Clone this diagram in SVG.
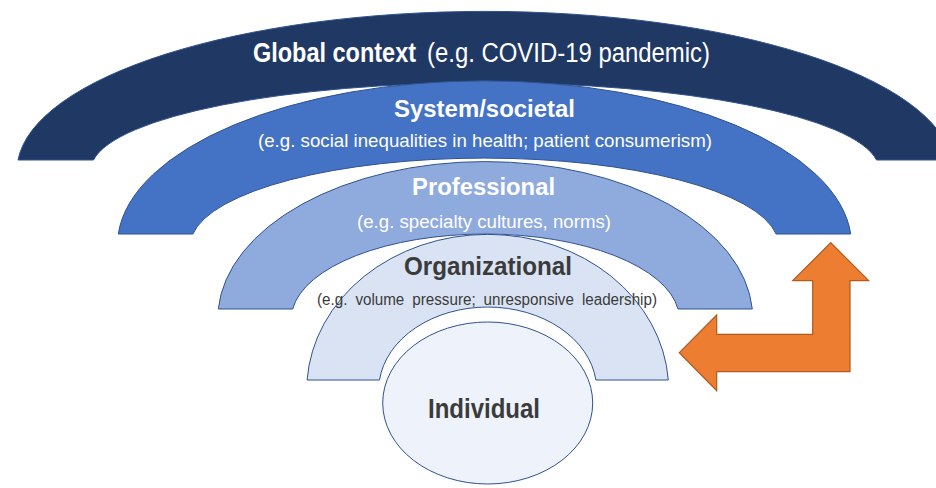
<svg xmlns="http://www.w3.org/2000/svg" width="936" height="488" viewBox="0 0 936 488">
<style>
.ring{stroke:#2F528F;stroke-width:1}
.t{font-family:"Liberation Sans Narrow","Liberation Sans",Arial,sans-serif}
.b{font-weight:bold}
.w{fill:#FFFFFF}
.d{fill:#3B3B3B}
</style>
<rect width="936" height="488" fill="#FFFFFF"/>
<g id="global">
<path class="ring" fill="#203864" d="M18,160 A468,159 0 0 1 952,160 L876.5,160 A394,87 0 0 0 93.5,160 Z"/>
<text class="t w b" x="253" y="62" font-size="27" textLength="163" lengthAdjust="spacingAndGlyphs">Global context</text>
<text class="t w" x="427" y="62" font-size="27" textLength="283" lengthAdjust="spacingAndGlyphs">(e.g. COVID-19 pandemic)</text>
</g>
<g id="system">
<path class="ring" fill="#4472C4" d="M118.3,234 A367,164 0 0 1 850.7,234 L776.1,234 A294,87 0 0 0 192.9,234 Z"/>
<text class="t w b" x="394" y="117" font-size="24" textLength="181" lengthAdjust="spacingAndGlyphs">System/societal</text>
<text class="t w" x="258" y="147" font-size="19" textLength="454" lengthAdjust="spacingAndGlyphs">(e.g. social inequalities in health; patient consumerism)</text>
</g>
<g id="professional">
<path class="ring" fill="#8FAADC" d="M218.3,309 A267.5,157 0 0 1 752.3,309 L678,309 A194,85 0 0 0 292.7,309 Z"/>
<text class="t w b" x="412" y="195" font-size="24" textLength="143" lengthAdjust="spacingAndGlyphs">Professional</text>
<text class="t w" x="357" y="228" font-size="18" textLength="254" lengthAdjust="spacingAndGlyphs">(e.g. specialty cultures, norms)</text>
</g>
<g id="organizational">
<path class="ring" fill="#DAE3F3" d="M307.1,380 A181,156 0 0 1 668.3,380 L595.9,380 A109,83 0 0 0 379.5,380 Z"/>
<text class="t d b" x="404" y="275" font-size="25" textLength="168" lengthAdjust="spacingAndGlyphs">Organizational</text>
<text class="t d" x="317" y="305" font-size="16" word-spacing="4" textLength="340" lengthAdjust="spacingAndGlyphs">(e.g. volume pressure; unresponsive leadership)</text>
</g>
<g id="individual">
<ellipse class="ring" fill="#EEF2FA" cx="487.7" cy="403" rx="105" ry="81"/>
<text class="t d b" x="428" y="418" font-size="27" textLength="112" lengthAdjust="spacingAndGlyphs">Individual</text>
</g>
<g id="connectors">
<path fill="#ED7D31" stroke="#AE5A21" stroke-width="1.2" stroke-linejoin="miter" d="M679.3,352.7 L716.7,315 L716.7,334.3 L812.7,334.3 L812.7,280.7 L792.7,280.7 L830.7,242.7 L868.7,280.7 L850,280.7 L850,371.7 L716.7,371.7 L716.7,390.7 Z"/>
</g>
</svg>
